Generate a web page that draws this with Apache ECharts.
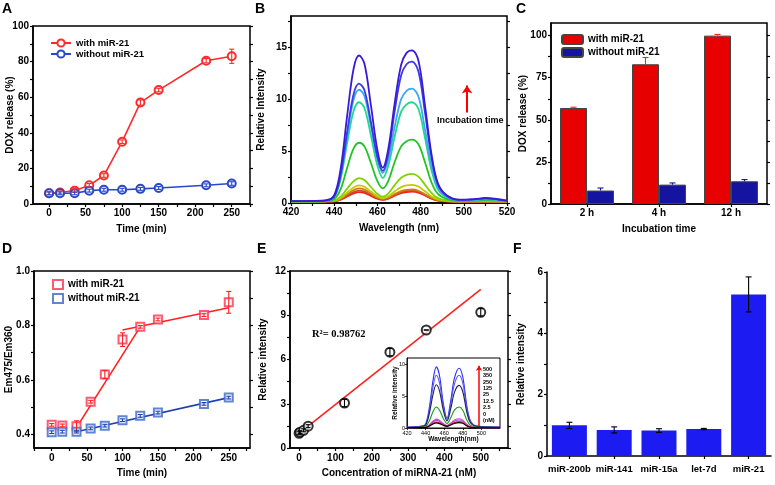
<!DOCTYPE html>
<html>
<head>
<meta charset="utf-8">
<script src="https://cdn.jsdelivr.net/npm/echarts@6/dist/echarts.min.js"></script>
<style>
  html, body { margin: 0; padding: 0; background: #fff; }
  #chart { width: 775px; height: 485px; }
</style>
</head>
<body>
<div id="chart"></div>
<script>
// ---- A: DOX release vs time ----
var timeMin = [0, 15, 35, 55, 75, 100, 125, 150, 215, 250];
var doxWith = [6, 6.5, 7.5, 10.5, 16, 35, 57, 64, 80.5, 83];
var doxWithErr = [0.8, 0.8, 1, 1, 1, 1, 1.5, 1, 1.2, 4];
var doxWithout = [6, 6, 6, 7.5, 8, 8, 8.5, 9, 10.5, 11.5];
var doxWithoutErr = [0.8, 0.8, 0.8, 0.8, 0.8, 0.8, 0.8, 0.8, 0.8, 1];

// ---- B: spectra during incubation ----
var specWl = [420, 430, 436, 440, 443, 446, 449, 451.5, 454, 457, 460, 462.5, 465, 468, 471, 473.5, 476, 479, 482, 485, 488, 492, 498, 505, 510, 520];
var spec1 = [0.12, 0.12, 0.14, 0.16, 0.32, 0.63, 0.93, 1.05, 0.97, 0.69, 0.41, 0.30, 0.41, 0.71, 0.96, 1.06, 1.10, 1.00, 0.72, 0.42, 0.24, 0.16, 0.12, 0.12, 0.12, 0.10];
var spec2 = [0.13, 0.13, 0.15, 0.18, 0.35, 0.72, 1.06, 1.20, 1.10, 0.78, 0.46, 0.33, 0.45, 0.77, 1.05, 1.16, 1.20, 1.09, 0.78, 0.46, 0.26, 0.17, 0.13, 0.13, 0.14, 0.12];
var spec3 = [0.14, 0.14, 0.16, 0.19, 0.40, 0.83, 1.24, 1.40, 1.29, 0.91, 0.53, 0.38, 0.51, 0.85, 1.14, 1.26, 1.30, 1.18, 0.85, 0.50, 0.28, 0.19, 0.14, 0.14, 0.15, 0.13];
var spec4 = [0.15, 0.15, 0.17, 0.21, 0.48, 1.00, 1.50, 1.70, 1.56, 1.10, 0.64, 0.45, 0.63, 1.11, 1.53, 1.69, 1.75, 1.59, 1.13, 0.65, 0.34, 0.21, 0.16, 0.16, 0.17, 0.14];
var spec5 = [0.15, 0.15, 0.17, 0.24, 0.62, 1.39, 2.10, 2.40, 2.21, 1.54, 0.87, 0.60, 0.91, 1.72, 2.43, 2.70, 2.80, 2.54, 1.77, 0.97, 0.47, 0.26, 0.17, 0.18, 0.20, 0.15];
var spec6 = [0.16, 0.16, 0.19, 0.39, 1.34, 3.40, 5.25, 5.80, 5.45, 3.85, 2.10, 1.40, 2.10, 3.95, 5.45, 5.95, 6.10, 5.65, 3.95, 2.00, 0.87, 0.40, 0.20, 0.22, 0.28, 0.17];
var spec7 = [0.17, 0.17, 0.21, 0.55, 2.30, 5.80, 8.85, 9.70, 9.15, 6.50, 3.60, 2.40, 3.55, 6.40, 8.80, 9.50, 9.70, 9.05, 6.30, 3.20, 1.31, 0.55, 0.25, 0.28, 0.36, 0.18];
var spec8 = [0.18, 0.18, 0.22, 0.61, 2.60, 6.50, 9.95, 10.90, 10.30, 7.40, 4.20, 2.90, 4.15, 7.35, 10.00, 10.80, 11.00, 10.25, 7.10, 3.60, 1.48, 0.61, 0.28, 0.32, 0.40, 0.20];
var spec9 = [0.18, 0.18, 0.23, 0.63, 2.75, 6.85, 10.50, 11.50, 10.85, 7.80, 4.45, 3.10, 4.70, 8.85, 12.30, 13.35, 13.60, 12.65, 8.75, 4.45, 1.79, 0.72, 0.30, 0.35, 0.44, 0.20];
var spec10 = [0.18, 0.20, 0.25, 0.75, 3.30, 8.40, 12.95, 14.20, 13.40, 9.40, 5.10, 3.40, 5.15, 9.60, 13.30, 14.45, 14.70, 13.70, 9.45, 4.75, 1.90, 0.75, 0.32, 0.38, 0.48, 0.22];
var specColors = ['#ff1a1a', '#c84a2a', '#d07a1a', '#c8c800', '#7ed400', '#22c322', '#1ed88c', '#3ea8f2', '#3a3ae6', '#3a1ad8'];

// ---- C: DOX release per incubation time ----
var incubation = ['2 h', '4 h', '12 h'];
var barWith = [57, 83, 100];
var barWithErr = [0.5, 4, 0.7];
var barWithout = [8, 11.5, 13.5];
var barWithoutErr = [1.5, 1, 1];

// ---- D: Em475/Em360 ratio ----
var ratioWith = [0.435, 0.433, 0.43, 0.52, 0.62, 0.748, 0.795, 0.822, 0.838, 0.885];
var ratioWithErr = [0.005, 0.005, 0.02, 0.005, 0.015, 0.025, 0.005, 0.005, 0.005, 0.04];
var ratioWithout = [0.408, 0.41, 0.41, 0.422, 0.432, 0.452, 0.468, 0.48, 0.512, 0.535];
var ratioWithoutErr = [0.005, 0.005, 0.005, 0.005, 0.005, 0.005, 0.005, 0.005, 0.005, 0.005];
var fitWithA = [[35, 0.425], [125, 0.795]];
var fitWithB = [[100, 0.783], [250, 0.865]];
var fitWithout = [[35, 0.41], [250, 0.535]];

// ---- E: calibration ----
var concNM = [0, 2.5, 12.5, 25, 125, 250, 350, 500];
var calIntensity = [1.0, 1.07, 1.2, 1.48, 3.05, 6.5, 8.0, 9.2];
var calErr = [0.1, 0.1, 0.1, 0.1, 0.25, 0.25, 0, 0.25];
var calFit = [[5, 1.1], [500, 10.75]];

// ---- E inset spectra ----
var insetWl = [420, 436, 440, 444, 448, 451.5, 455, 459, 463, 467, 471, 476, 480, 484, 488, 494, 505, 520];
var inset500 = [0.10, 0.30, 0.60, 3.20, 7.50, 9.60, 8.20, 3.93, 1.50, 4.27, 7.82, 9.40, 8.00, 3.80, 1.20, 0.35, 0.20, 0.15];
var inset350 = [0.10, 0.25, 0.50, 2.75, 6.50, 8.30, 7.05, 3.40, 1.30, 3.75, 6.90, 8.30, 7.05, 3.35, 1.05, 0.30, 0.18, 0.12];
var inset250 = [0.10, 0.20, 0.45, 2.25, 5.30, 6.80, 5.80, 2.80, 1.10, 3.00, 5.60, 6.70, 5.70, 2.70, 0.85, 0.25, 0.15, 0.10];
var inset125 = [0.08, 0.12, 0.25, 1.10, 2.60, 3.30, 2.80, 1.50, 0.70, 1.60, 2.80, 3.30, 2.80, 1.35, 0.45, 0.15, 0.10, 0.08];
var inset25 = [0.06, 0.08, 0.12, 0.50, 1.10, 1.40, 1.20, 0.70, 0.40, 0.77, 1.24, 1.45, 1.24, 0.60, 0.20, 0.08, 0.06, 0.05];
var inset12 = [0.06, 0.08, 0.11, 0.43, 0.95, 1.20, 1.03, 0.60, 0.35, 0.66, 1.07, 1.25, 1.07, 0.52, 0.18, 0.07, 0.06, 0.05];
var inset2 = [0.05, 0.07, 0.10, 0.35, 0.76, 0.95, 0.82, 0.50, 0.30, 0.55, 0.86, 1.00, 0.86, 0.42, 0.15, 0.06, 0.05, 0.05];
var inset0 = [0.05, 0.06, 0.09, 0.30, 0.64, 0.80, 0.69, 0.42, 0.25, 0.46, 0.73, 0.85, 0.73, 0.36, 0.13, 0.05, 0.05, 0.05];
var insetColors = ['#2a2aff', '#5a5ae8', '#1e1e5a', '#1a9a1a', '#e040e0', '#9a50d0', '#ff2020', '#000000'];
var insetConc = ['500', '350', '250', '125', '25', '12.5', '2.5', '0', '(nM)'];

// ---- F: selectivity ----
var mirnas = ['miR-200b', 'miR-141', 'miR-15a', 'let-7d', 'miR-21'];
var selIntensity = [1.0, 0.85, 0.83, 0.88, 5.27];
var selErr = [0.1, 0.1, 0.06, 0.02, 0.57];

// tick positions
var ticksA_x = [0, 25, 50, 75, 100, 125, 150, 175, 200, 225, 250, 275];
var labelsA_x = [0, 50, 100, 150, 200, 250];
var ticksA_y = [0, 10, 20, 30, 40, 50, 60, 70, 80, 90, 100];
var labelsA_y = [0, 20, 40, 60, 80, 100];
var ticksB_x = [420, 430, 440, 450, 460, 470, 480, 490, 500, 510, 520];
var labelsB_x = [420, 440, 460, 480, 500, 520];
var ticksB_y = [0, 2.5, 5, 7.5, 10, 12.5, 15, 17.5];
var labelsB_y = [0, 5, 10, 15];
var ticksC_y = [0, 12.5, 25, 37.5, 50, 62.5, 75, 87.5, 100];
var labelsC_y = [0, 25, 50, 75, 100];
var ticksD_x = [-25, 0, 25, 50, 75, 100, 125, 150, 175, 200, 225, 250, 275];
var labelsD_x = [0, 50, 100, 150, 200, 250];
var ticksD_y = [0.4, 0.5, 0.6, 0.7, 0.8, 0.9, 1.0];
var labelsD_y = [0.4, 0.6, 0.8, 1.0];
var ticksE_x = [0, 50, 100, 150, 200, 250, 300, 350, 400, 450, 500, 550];
var labelsE_x = [0, 100, 200, 300, 400, 500];
var ticksE_y = [0, 1.5, 3, 4.5, 6, 7.5, 9, 10.5, 12];
var labelsE_y = [0, 3, 6, 9, 12];
var ticksF_y = [0, 1, 2, 3, 4, 5, 6];
var labelsF_y = [0, 2, 4, 6];
var labelsIn_x = [420, 440, 460, 480, 500];
var labelsIn_y = [0, 5, 10];

var FONT = '"Liberation Sans", Arial, sans-serif';
var tickLabel = { color: '#000', fontFamily: FONT, fontWeight: 'bold', fontSize: 10 };
var nameStyle = { color: '#000', fontFamily: FONT, fontWeight: 'bold', fontSize: 10 };

function pairs(xs, ys) {
    return xs.map(function (x, i) { return [x, ys[i]]; });
}
function errs(xs, ys, es, upOnly) {
    return xs.map(function (x, i) { return [x, upOnly ? ys[i] : ys[i] - es[i], ys[i] + es[i]]; });
}
function idx(arr) {
    return arr.map(function (v, i) { return i; });
}

function axis(type, grid, o) {
    var a = {
        type: type, gridIndex: grid, position: o.position, min: o.min, max: o.max,
        name: o.name || '', nameLocation: 'middle', nameGap: o.nameGap || 0, nameMoveOverlap: false,
        nameTextStyle: Object.assign({}, nameStyle, o.nameStyle || {}),
        axisLine: { show: o.line !== false, onZero: false, lineStyle: { color: '#000', width: o.lw || 1.5 } },
        axisTick: { show: true, length: o.tickLen || 3, lineStyle: { color: '#000', width: o.lw || 1.2 } },
        axisLabel: Object.assign({ show: !!o.labels || !!o.data, margin: o.margin || 4 }, tickLabel, o.labelStyle || {}),
        splitLine: { show: false }
    };
    if (o.ticks) a.axisTick.customValues = o.ticks;
    if (o.labels) a.axisLabel.customValues = o.labels;
    if (o.fmt) a.axisLabel.formatter = o.fmt;
    if (o.data) { a.data = o.data; a.axisTick.alignWithLabel = true; a.axisLabel.interval = 0; }
    return a;
}

function errorSeries(xi, yi, data, color, cap, dx, z, noLowCap) {
    return {
        type: 'custom', xAxisIndex: xi, yAxisIndex: yi, data: data, z: z, silent: true,
        encode: { x: 0, y: [1, 2] },
        itemStyle: { color: color },
        renderItem: function (params, api) {
            var lo = api.coord([api.value(0), api.value(1)]);
            var hi = api.coord([api.value(0), api.value(2)]);
            var x = lo[0] + dx;
            var st = { stroke: color, lineWidth: 1.1 };
            var kids = [
                { type: 'line', shape: { x1: x, y1: lo[1], x2: x, y2: hi[1] }, style: st },
                { type: 'line', shape: { x1: x - cap, y1: hi[1], x2: x + cap, y2: hi[1] }, style: st }
            ];
            if (!noLowCap) kids.push({ type: 'line', shape: { x1: x - cap, y1: lo[1], x2: x + cap, y2: lo[1] }, style: st });
            return { type: 'group', children: kids };
        }
    };
}

var frame = { show: true, borderColor: '#000', borderWidth: 1.5, backgroundColor: 'transparent', outerBoundsMode: 'none', containLabel: false };
var grids = [
    Object.assign({ left: 33, top: 26, width: 217, height: 178 }, frame),   // A
    Object.assign({ left: 291, top: 16, width: 216, height: 187 }, frame),  // B
    Object.assign({ left: 551, top: 23, width: 216, height: 181 }, frame),  // C
    Object.assign({ left: 34, top: 271, width: 216, height: 177 }, frame),  // D
    Object.assign({ left: 290, top: 271, width: 218, height: 177 }, frame), // E
    { left: 547, top: 272, width: 224, height: 184, outerBoundsMode: 'none', containLabel: false }, // F
    Object.assign({}, frame, { left: 407, top: 358, width: 93, height: 70, borderWidth: 1, backgroundColor: '#fff' }) // inset
];

var xAxes = [
    axis('value', 0, { min: -22, max: 275, ticks: ticksA_x, labels: labelsA_x, name: 'Time (min)', nameGap: 20 }),
    axis('value', 1, { min: 420, max: 520, ticks: ticksB_x, labels: labelsB_x, name: 'Wavelength (nm)', nameGap: 20 }),
    axis('category', 2, { data: incubation, name: 'Incubation time', nameGap: 20 }),
    axis('value', 3, { min: -25, max: 280, ticks: ticksD_x, labels: labelsD_x, name: 'Time (min)', nameGap: 20, margin: 5 }),
    axis('value', 4, { min: -25, max: 575, ticks: ticksE_x, labels: labelsE_x, name: 'Concentration of miRNA-21 (nM)', nameGap: 20, margin: 5 }),
    axis('category', 5, { data: mirnas, margin: 8, labelStyle: { fontSize: 9.5 } }),
    axis('value', 6, { min: 420, max: 520, labels: labelsIn_x, ticks: labelsIn_x, lw: 0.8, tickLen: 2, margin: 2,
        labelStyle: { fontSize: 5.5, fontWeight: 'normal' }, name: 'Wavelength(nm)', nameGap: 8,
        nameStyle: { fontSize: 6.5 } })
];
var yAxes = [
    axis('value', 0, { min: 0, max: 100, ticks: ticksA_y, labels: labelsA_y, name: 'DOX release (%)', nameGap: 18 }),
    axis('value', 0, { position: 'right', min: 0, max: 100, ticks: ticksA_y, line: false }),
    axis('value', 1, { min: 0, max: 18, ticks: ticksB_y, labels: labelsB_y, name: 'Relative Intensity', nameGap: 25 }),
    axis('value', 1, { position: 'right', min: 0, max: 18, ticks: ticksB_y, line: false }),
    axis('value', 2, { min: 0, max: 107.5, ticks: ticksC_y, labels: labelsC_y, name: 'DOX release (%)', nameGap: 23 }),
    axis('value', 2, { position: 'right', min: 0, max: 107.5, ticks: ticksC_y, line: false }),
    axis('value', 3, { min: 0.35, max: 1.0, ticks: ticksD_y, labels: labelsD_y, name: 'Em475/Em360', nameGap: 20,
        fmt: function (v) { return v.toFixed(1); } }),
    axis('value', 3, { position: 'right', min: 0.35, max: 1.0, ticks: ticksD_y, line: false }),
    axis('value', 4, { min: 0, max: 12, ticks: ticksE_y, labels: labelsE_y, name: 'Relative intensity', nameGap: 22 }),
    axis('value', 4, { position: 'right', min: 0, max: 12, ticks: ticksE_y, line: false }),
    axis('value', 5, { min: 0, max: 6, ticks: ticksF_y, labels: labelsF_y, name: 'Relative intensity', nameGap: 21 }),
    axis('value', 6, { min: 0, max: 11, labels: labelsIn_y, ticks: labelsIn_y, lw: 0.8, tickLen: 2, margin: 2,
        labelStyle: { fontSize: 5.5, fontWeight: 'normal' }, name: 'Relative intensity', nameGap: 8,
        nameStyle: { fontSize: 6.5 } })
];

var series = [];

// A
series.push({ name: 'with miR-21', type: 'line', xAxisIndex: 0, yAxisIndex: 0, data: pairs(timeMin, doxWith),
    symbol: 'emptyCircle', symbolSize: 8, color: '#ff2a2a', lineStyle: { width: 1.6 }, itemStyle: { borderWidth: 1.2 } });
series.push({ name: 'without miR-21', type: 'line', xAxisIndex: 0, yAxisIndex: 0, data: pairs(timeMin, doxWithout),
    symbol: 'emptyCircle', symbolSize: 8, color: '#2848c8', lineStyle: { width: 1.6 }, itemStyle: { borderWidth: 1.2 } });
series.push(errorSeries(0, 0, errs(timeMin, doxWith, doxWithErr), '#ff2a2a', 2.5, 0, 4));
series.push(errorSeries(0, 0, errs(timeMin, doxWithout, doxWithoutErr), '#2848c8', 2.5, 0, 4));

// B
[spec1, spec2, spec3, spec4, spec5, spec6, spec7, spec8, spec9, spec10].forEach(function (s, i) {
    var sr = { type: 'line', xAxisIndex: 1, yAxisIndex: 2, data: pairs(specWl, s), showSymbol: false,
        smooth: 0.35, color: specColors[i], lineStyle: { width: 1.8 }, z: 2 + i * 0.01 };
    if (i === 9) {
        sr.markLine = { silent: true, symbol: ['none', 'arrow'], symbolSize: 8, label: { show: false },
            lineStyle: { color: '#ff0000', width: 2, type: 'solid' },
            data: [[{ coord: [501.5, 8.7] }, { coord: [501.5, 11.3] }]] };
    }
    series.push(sr);
});

// C
series.push({ name: 'with miR-21 ', type: 'bar', xAxisIndex: 2, yAxisIndex: 4, data: barWith, barWidth: 27, barGap: '0%',
    color: '#e60000', itemStyle: { borderColor: '#444', borderWidth: 1 }, z: 3 });
series.push({ name: 'without miR-21 ', type: 'bar', xAxisIndex: 2, yAxisIndex: 4, data: barWithout, barWidth: 27, barGap: '0%',
    color: '#1414a0', itemStyle: { borderColor: '#444', borderWidth: 1 }, z: 3 });
series.push(errorSeries(2, 4, errs(idx(incubation), barWith, barWithErr, true), '#ff2020', 3, -13.5, 4, true));
series.push(errorSeries(2, 4, errs(idx(incubation), barWithout, barWithoutErr, true), '#1010a0', 3, 13.5, 4, true));

// D
series.push({ name: 'with miR-21  ', type: 'scatter', xAxisIndex: 3, yAxisIndex: 6, data: pairs(timeMin, ratioWith),
    symbol: 'emptyRect', symbolSize: 8, color: '#ff3050', itemStyle: { borderWidth: 1.2 }, z: 4 });
series.push({ name: 'without miR-21  ', type: 'scatter', xAxisIndex: 3, yAxisIndex: 6, data: pairs(timeMin, ratioWithout),
    symbol: 'emptyRect', symbolSize: 8, color: '#3a66c8', itemStyle: { borderWidth: 1.2 }, z: 4 });
series.push({ type: 'line', xAxisIndex: 3, yAxisIndex: 6, data: fitWithA, showSymbol: false, color: '#ff2020', lineStyle: { width: 1.6 } });
series.push({ type: 'line', xAxisIndex: 3, yAxisIndex: 6, data: fitWithB, showSymbol: false, color: '#ff2020', lineStyle: { width: 1.6 } });
series.push({ type: 'line', xAxisIndex: 3, yAxisIndex: 6, data: fitWithout, showSymbol: false, color: '#2040b0', lineStyle: { width: 1.6 } });
series.push(errorSeries(3, 6, errs(timeMin, ratioWith, ratioWithErr), '#ff2020', 2.5, 0, 5));
series.push(errorSeries(3, 6, errs(timeMin, ratioWithout, ratioWithoutErr), '#2040b0', 2.5, 0, 5));

// E
series.push({ type: 'line', xAxisIndex: 4, yAxisIndex: 8, data: calFit, showSymbol: false, color: '#ff2020', lineStyle: { width: 1.6 } });
series.push({ type: 'scatter', xAxisIndex: 4, yAxisIndex: 8, data: pairs(concNM, calIntensity),
    symbol: 'emptyCircle', symbolSize: 9, color: '#000', itemStyle: { borderWidth: 1.1 }, z: 4 });
series.push(errorSeries(4, 8, errs(concNM, calIntensity, calErr), '#000', 2.5, 0, 5));

// E inset
[inset500, inset350, inset250, inset125, inset25, inset12, inset2, inset0].forEach(function (s, i) {
    var sr = { type: 'line', xAxisIndex: 6, yAxisIndex: 11, data: pairs(insetWl, s), showSymbol: false,
        smooth: 0.35, color: insetColors[i], lineStyle: { width: 1.1 }, z: 6 };
    if (i === 0) {
        sr.markLine = { silent: true, symbol: ['none', 'arrow'], symbolSize: 5, label: { show: false },
            lineStyle: { color: '#ff0000', width: 1.5, type: 'solid' },
            data: [[{ coord: [497.5, 0.3] }, { coord: [497.5, 9.8] }]] };
    }
    series.push(sr);
});

// F
series.push({ type: 'bar', xAxisIndex: 5, yAxisIndex: 10, data: selIntensity, barWidth: 35, color: '#1c1cf2', z: 3 });
series.push(errorSeries(5, 10, errs(idx(mirnas), selIntensity, selErr), '#000', 3, 0, 5));

var legendText = { color: '#000', fontFamily: FONT, fontWeight: 'bold', fontSize: 10 };
var legends = [
    { left: 45, top: 33, orient: 'vertical', itemWidth: 20, itemHeight: 9, itemGap: 1, selectedMode: false,
        data: ['with miR-21', 'without miR-21'], textStyle: Object.assign({}, legendText, { fontSize: 9.5 }) },
    { left: 556, top: 29, orient: 'vertical', itemWidth: 21, itemHeight: 9, itemGap: 2, selectedMode: false,
        data: ['with miR-21 ', 'without miR-21 '], textStyle: legendText },
    { left: 47, top: 274, orient: 'vertical', itemWidth: 10, itemHeight: 9, itemGap: 3, selectedMode: false,
        data: ['with miR-21  ', 'without miR-21  '], textStyle: legendText }
];

function label(txt, x, y, font, extra) {
    return Object.assign({ type: 'text', x: x, y: y, silent: true,
        style: { text: txt, font: font, fill: '#000', textAlign: 'left', textVerticalAlign: 'middle' } }, extra || {});
}
var letterFont = 'bold 14px ' + FONT;
var graphics = [
    label('A', 2, 9, letterFont), label('B', 255, 9, letterFont), label('C', 516, 9, letterFont),
    label('D', 2, 249, letterFont), label('E', 257, 249, letterFont), label('F', 513, 249, letterFont),
    label('Incubation time', 437, 121, 'bold 9px ' + FONT),
    label('R\u00b2= 0.98762', 312, 334, 'bold 10.5px "Liberation Serif", "Times New Roman", serif'),
    { type: 'text', x: 483, y: 366, silent: true, z: 10,
        style: { text: insetConc.join('\n'), font: 'bold 5.5px ' + FONT, lineHeight: 6.4, fill: '#000', textAlign: 'left', textVerticalAlign: 'top' } }
];

var chart = echarts.init(document.getElementById('chart'));
chart.setOption({
    animation: false,
    backgroundColor: '#fff',
    textStyle: { fontFamily: FONT },
    grid: grids,
    xAxis: xAxes,
    yAxis: yAxes,
    legend: legends,
    graphic: graphics,
    series: series
});
</script>
</body>
</html>
